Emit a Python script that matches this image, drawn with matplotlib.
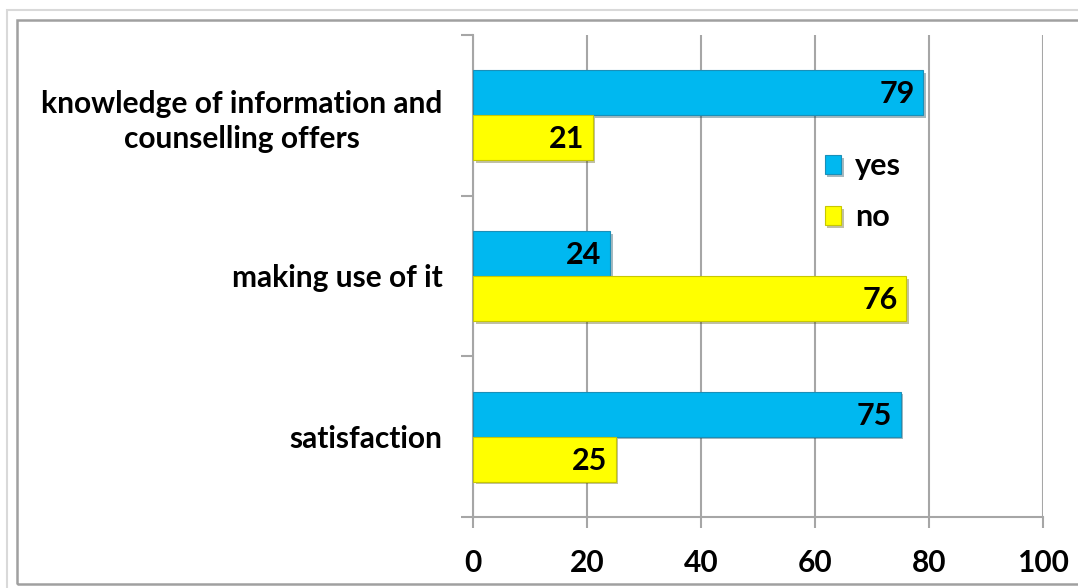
import matplotlib
matplotlib.use("Agg")
import matplotlib.pyplot as plt
from matplotlib.patches import Rectangle
from matplotlib import patheffects as pe
import numpy as np

categories = ["knowledge of information and\ncounselling offers", "making use of it", "satisfaction"]
yes_values = [79, 24, 75]
no_values = [21, 76, 25]
series_names = ["yes", "no"]
x_ticks = [0, 20, 40, 60, 80, 100]

plt.rcParams['font.family'] = ['Lato', 'DejaVu Sans']
plt.rcParams['font.weight'] = 'bold'

W, H = 1078, 588
fig = plt.figure(figsize=(W / 100, H / 100), dpi=100)

# frame borders
fig.patches.append(Rectangle((7 / W, -0.1), 1.2, (H - 10) / H + 0.1, transform=fig.transFigure,
                             fill=False, edgecolor='#d9d9d9', lw=1.5, zorder=0))
fig.patches.append(Rectangle((16.5 / W, (H - 584) / H), 1.2, (584 - 20) / H, transform=fig.transFigure,
                             fill=False, edgecolor='#a0a0a0', lw=1.8, zorder=0))

ax = fig.add_axes([473 / W, 1 - 517 / H, (1043 - 473) / W, (517 - 35) / H])

FS = 21.5
n = len(categories)
ypos = np.arange(n)[::-1]
h = 0.28
shadow = [pe.SimplePatchShadow(offset=(2, -2), alpha=0.35), pe.Normal()]
b1 = ax.barh(ypos + h / 2, yes_values, height=h, color='#00b8f0', edgecolor='#1a8fb8', lw=0.8,
             label=series_names[0], zorder=3)
b2 = ax.barh(ypos - h / 2, no_values, height=h, color='#ffff00', edgecolor='#c8c800', lw=0.8,
             label=series_names[1], zorder=3)
for bars in (b1, b2):
    for p in bars:
        p.set_path_effects(shadow)

for bars, vals in ((b1, yes_values), (b2, no_values)):
    for p, v in zip(bars, vals):
        ax.annotate(str(v), xy=(v, p.get_y() + p.get_height() / 2), xytext=(-6, -1),
                    textcoords='offset points', ha='right', va='center',
                    fontsize=22, fontweight='bold', color='black', zorder=5)

ax.set_xlim(0, 100)
ax.set_ylim(-0.5, n - 0.5)
ax.set_xticks(x_ticks)
ax.set_xticklabels([str(t) for t in x_ticks], fontsize=FS, fontweight='bold')
ax.xaxis.grid(True, color='#a6a6a6', lw=1.5, zorder=0)
ax.set_axisbelow(True)

# y ticks at category boundaries, labels at centers
ax.set_yticks(np.arange(n + 1) - 0.5)
ax.set_yticklabels([])
ax.set_yticks(ypos, minor=True)
ax.set_yticklabels(categories, minor=True, fontsize=FS, fontweight='bold', ha='right',
                   multialignment='center', linespacing=1.3)
ax.tick_params(axis='y', which='minor', length=0, pad=22)
ax.tick_params(axis='y', which='major', length=9, width=1.5, color='#a6a6a6', direction='out')
ax.tick_params(axis='x', length=8, width=1.5, color='#a6a6a6', direction='out', pad=15)

for s in ('top', 'right'):
    ax.spines[s].set_visible(False)
for s in ('left', 'bottom'):
    ax.spines[s].set_color('#a6a6a6')
    ax.spines[s].set_linewidth(1.5)

leg = ax.legend(handles=[b1, b2], labels=series_names, loc='upper left',
                bbox_to_anchor=((797 - 473) / (1043 - 473), (517 - 125) / (517 - 35)),
                frameon=False, handlelength=0.55, handleheight=0.55,
                labelspacing=0.75, handletextpad=0.45, prop={'weight': 'bold', 'size': 22})

fig.savefig("out.png", dpi=100)
